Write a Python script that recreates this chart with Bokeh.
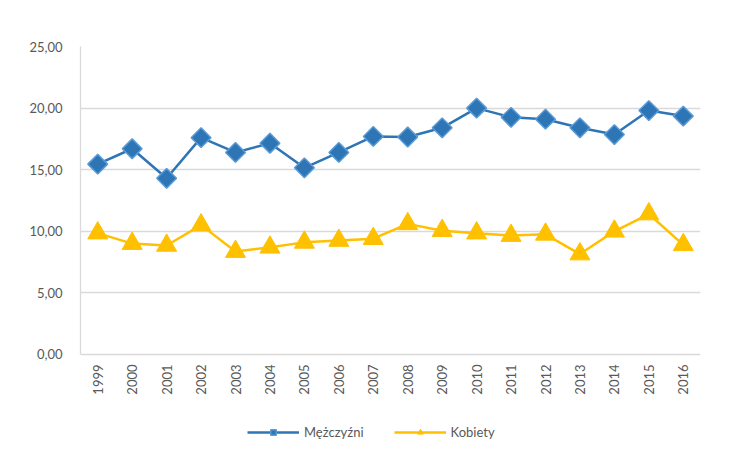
import math
from bokeh.plotting import figure
from bokeh.models import FixedTicker, Legend, LegendItem, ColumnDataSource
from bokeh.core.properties import value
from bokeh.embed import file_html
from bokeh.resources import INLINE

years = [str(y) for y in range(1999, 2017)]
men = [15.45, 16.7, 14.3, 17.6, 16.4, 17.15, 15.15, 16.4, 17.7, 17.65,
       18.4, 20.0, 19.25, 19.1, 18.4, 17.85, 19.8, 19.35]
women = [9.85, 9.0, 8.85, 10.5, 8.35, 8.7, 9.1, 9.25, 9.4, 10.6,
         10.05, 9.85, 9.65, 9.75, 8.15, 10.0, 11.4, 8.9]
y_ticks = [0, 5, 10, 15, 20, 25]
y_labels = ["0,00", "5,00", "10,00", "15,00", "20,00", "25,00"]

FONT = "Lato"
TXT = "#595959"
GRID = "#d9d9d9"
BLUE = "#2e75b6"
BLUE_EDGE = "#5b9bd5"
GOLD = "#ffc000"

# frame extends below the value axis to host the category labels and legend
p = figure(frame_width=620, frame_height=400,
           x_range=years, y_range=(-7.47, 25),
           output_backend="svg", toolbar_location=None,
           min_border_left=80, min_border_right=27, min_border_top=46,
           min_border_bottom=0)
p.outline_line_color = None
p.background_fill_color = "white"
p.border_fill_color = "white"

p.xaxis.visible = False
p.xgrid.grid_line_color = None
p.ygrid.grid_line_color = GRID
p.ygrid.grid_line_width = 1.3
p.yaxis.ticker = FixedTicker(ticks=y_ticks)
p.yaxis.bounds = (0, 25)
p.yaxis.major_label_overrides = {t: l for t, l in zip(y_ticks, y_labels)}
p.yaxis.axis_line_color = GRID
p.yaxis.axis_line_width = 1.3
p.yaxis.major_tick_line_color = None
p.yaxis.minor_tick_line_color = None
p.yaxis.major_label_text_font = FONT
p.yaxis.major_label_text_font_size = "13px"
p.yaxis.major_label_text_color = TXT
p.yaxis.major_label_standoff = 12

src = ColumnDataSource(dict(x=years, men=men, women=women, base=[0] * len(years)))

# category (year) labels, rotated, just under the zero line
p.text("x", "base", text="x", source=src, angle=math.pi / 2,
       text_align="right", text_baseline="middle", y_offset=10,
       text_font=value(FONT), text_font_size="13px", text_color=TXT)

l1 = p.line("x", "men", source=src, line_color=BLUE, line_width=2.5)
m1 = p.scatter("x", "men", source=src, marker="square", size=14, angle=math.pi / 4,
               fill_color=BLUE, line_color=BLUE_EDGE, line_width=1.5)
l2 = p.line("x", "women", source=src, line_color=GOLD, line_width=2.5)
m2 = p.scatter("x", "women", source=src, marker="triangle", size=20,
               fill_color=GOLD, line_color=GOLD)

legend = Legend(items=[LegendItem(label="Mężczyźni", renderers=[l1, m1]),
                       LegendItem(label="Kobiety", renderers=[l2, m2])],
                orientation="horizontal", location=(167, 6),
                label_text_font=FONT, label_text_font_size="13px",
                label_text_color=TXT, glyph_width=52, glyph_height=14,
                spacing=30, border_line_color=None, background_fill_alpha=0,
                margin=0, padding=0)
p.add_layout(legend)

open("out.html", "w").write(file_html(p, INLINE))
